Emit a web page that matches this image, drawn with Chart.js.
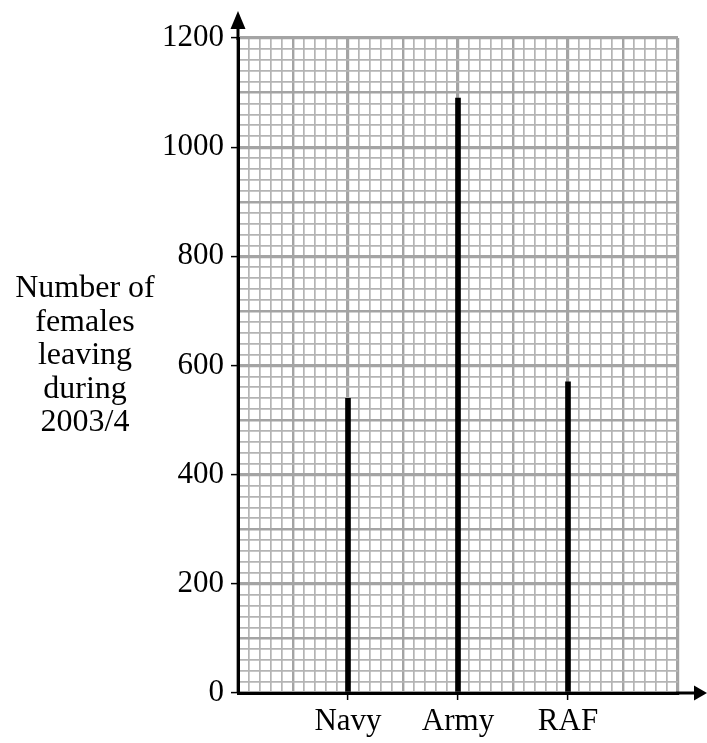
<!DOCTYPE html>
<html>
<head>
<meta charset="utf-8">
<script src="https://cdn.jsdelivr.net/npm/chart.js@4/dist/chart.umd.min.js"></script>
<style>
  html, body { margin: 0; padding: 0; background: #fff; }
  #wrap { position: relative; width: 707px; height: 743px; }
  #ytitle {
    position: absolute; left: 0; width: 170px; top: 270px;
    font-family: 'Liberation Serif', 'Times New Roman', serif;
    font-size: 32px; line-height: 33.5px; text-align: center; color: #000;
  }
</style>
</head>
<body>
<div id="wrap">
  <canvas id="c" width="707" height="743"></canvas>
  <div id="ytitle">Number of<br>females<br>leaving<br>during<br>2003/4</div>
</div>
<script>
const categories = ['Navy', 'Army', 'RAF'];
const femalesLeaving = [540, 1090, 570];
const yTickLabels = [0, 200, 400, 600, 800, 1000, 1200];

const FONT = { family: "'Liberation Serif', 'Times New Roman', serif", size: 31 };
const isMult = (v, m) => Math.abs(v / m - Math.round(v / m)) < 1e-6;

const arrows = {
  id: 'arrows',
  afterDraw(chart) {
    const { ctx, chartArea } = chart;
    const ax = chart.scales.x.getPixelForValue(0);
    const ay = chart.scales.y.getPixelForValue(0);
    ctx.save();
    ctx.strokeStyle = '#000';
    ctx.fillStyle = '#000';
    ctx.lineWidth = 3;
    ctx.beginPath();
    ctx.moveTo(ax, chartArea.top + 2);
    ctx.lineTo(ax, 26);
    ctx.moveTo(chartArea.right - 2, ay);
    ctx.lineTo(698, ay);
    ctx.stroke();
    ctx.beginPath();
    ctx.moveTo(ax, 11);
    ctx.lineTo(ax - 7.5, 29);
    ctx.lineTo(ax + 7.5, 29);
    ctx.closePath();
    ctx.fill();
    ctx.beginPath();
    ctx.moveTo(707, ay);
    ctx.lineTo(694, ay - 7.5);
    ctx.lineTo(694, ay + 7.5);
    ctx.closePath();
    ctx.fill();
    ctx.restore();
  }
};

new Chart(document.getElementById('c'), {
  type: 'bar',
  data: {
    datasets: [{
      data: categories.map((c, i) => ({ x: i + 1, y: femalesLeaving[i] })),
      backgroundColor: '#000',
      borderWidth: 0,
      barThickness: 5
    }]
  },
  options: {
    responsive: false,
    animation: false,
    events: [],
    layout: { padding: { left: 0, right: 29, top: 38, bottom: 0 } },
    plugins: { legend: { display: false }, tooltip: { enabled: false } },
    scales: {
      x: {
        type: 'linear',
        min: 0, max: 4,
        offset: false,
        afterFit: s => { s.height = 50; },
        border: { color: '#000', width: 3 },
        grid: {
          offset: false,
          color: c => isMult(c.tick.value, 0.5) ? '#a4a4a4' : '#b4b4b4',
          lineWidth: c => isMult(c.tick.value, 1) ? 3.2 : (isMult(c.tick.value, 0.5) ? 2.4 : 1.7),
          tickColor: c => (isMult(c.tick.value, 1) && c.tick.value > 0 && c.tick.value < 4) ? '#000' : 'rgba(0,0,0,0)',
          tickWidth: 1.5,
          tickLength: 7
        },
        ticks: {
          stepSize: 0.1,
          autoSkip: false,
          maxRotation: 0,
          padding: 3,
          color: '#000',
          font: FONT,
          callback: v => {
            if (!isMult(v, 1)) return '';
            const i = Math.round(v) - 1;
            return categories[i] !== undefined ? categories[i] : '';
          }
        }
      },
      y: {
        min: 0, max: 1200,
        afterFit: s => { s.width = 238; },
        border: { color: '#000', width: 3 },
        grid: {
          color: c => isMult(c.tick.value, 100) ? '#a4a4a4' : '#b4b4b4',
          lineWidth: c => isMult(c.tick.value, 200) ? 3.2 : (isMult(c.tick.value, 100) ? 2.4 : 1.7),
          tickColor: c => yTickLabels.includes(c.tick.value) ? '#000' : 'rgba(0,0,0,0)',
          tickWidth: 1.5,
          tickLength: 7
        },
        ticks: {
          stepSize: 20,
          autoSkip: false,
          padding: 7,
          color: '#000',
          font: FONT,
          callback: v => yTickLabels.includes(v) ? String(v) : ''
        }
      }
    }
  },
  plugins: [arrows]
});
</script>
</body>
</html>
